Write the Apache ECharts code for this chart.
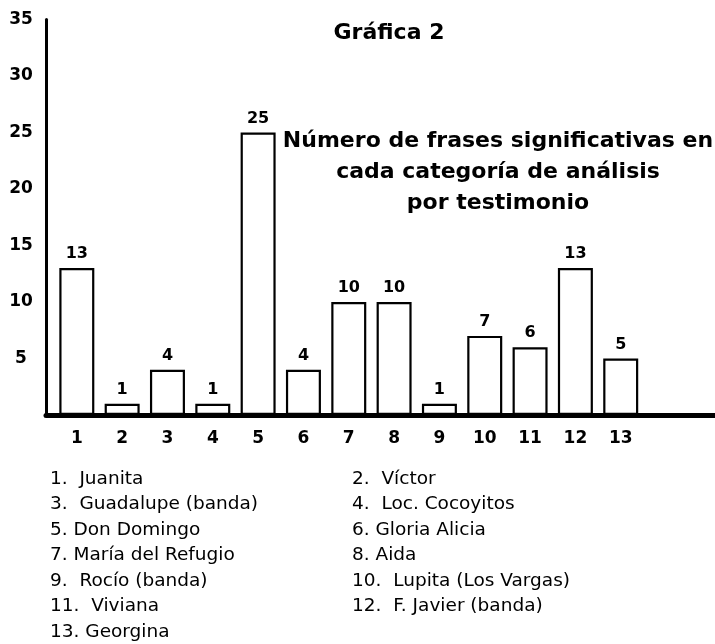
<!DOCTYPE html>
<html>
<head>
<meta charset="utf-8">
<title>Gráfica 2</title>
<script src="https://cdn.jsdelivr.net/npm/echarts@6/dist/echarts.min.js"></script>
<style>
  html, body { margin: 0; padding: 0; background: #fff; }
</style>
</head>
<body>
<div id="main" style="width:715px;height:644px"></div>
<script>
// testimonios (eje x) y número de frases
var categorias = [1, 2, 3, 4, 5, 6, 7, 8, 9, 10, 11, 12, 13];
var frases = [13, 1, 4, 1, 25, 4, 10, 10, 1, 7, 6, 13, 5];
var ticksY = [5, 10, 15, 20, 25, 30, 35];
var titulo = 'Gráfica 2';
var subtitulo = ['Número de frases significativas en', 'cada categoría de análisis', 'por testimonio'];
var nombres = [
  '1.  Juanita', '2.  Víctor',
  '3.  Guadalupe (banda)', '4.  Loc. Cocoyitos',
  '5. Don Domingo', '6. Gloria Alicia',
  '7. María del Refugio', '8. Aida',
  '9.  Rocío (banda)', '10.  Lupita (Los Vargas)',
  '11.  Viviana', '12.  F. Javier (banda)',
  '13. Georgina'
];

var fuente = '"DejaVu Sans", sans-serif';
var myChart = echarts.init(document.getElementById('main'));

// lista de nombres abajo, en dos columnas
var textos = [];
for (var i = 0; i < nombres.length; i++) {
  textos.push({
    type: 'text',
    x: i % 2 === 0 ? 50 : 352,
    y: 479 + Math.floor(i / 2) * 25.5,
    style: {
      text: nombres[i],
      font: 'normal 18.5px ' + fuente,
      fill: '#000',
      textVerticalAlign: 'middle'
    }
  });
}
textos.push({
  type: 'text', x: 389, y: 33,
  style: { text: titulo, font: 'bold 22px ' + fuente, fill: '#000', textAlign: 'center', textVerticalAlign: 'middle' }
});
for (var j = 0; j < subtitulo.length; j++) {
  textos.push({
    type: 'text', x: 498, y: 141 + j * 31,
    style: { text: subtitulo[j], font: 'bold 22px ' + fuente, fill: '#000', textAlign: 'center', textVerticalAlign: 'middle' }
  });
}

var option = {
  animation: false,
  backgroundColor: '#fff',
  grid: { left: 46, right: 0, top: 19.5, bottom: 229 },
  xAxis: {
    type: 'value',
    min: 0.32,
    max: 15.08,
    offset: 3,
    splitLine: { show: false },
    axisLine: { show: true, lineStyle: { color: '#000', width: 5 } },
    axisTick: { show: false },
    axisLabel: {
      customValues: categorias,
      margin: 12,
      color: '#000',
      fontFamily: fuente,
      fontWeight: 'bold',
      fontSize: 17
    }
  },
  yAxis: {
    type: 'value',
    min: 0,
    max: 35,
    interval: 5,
    splitLine: { show: false },
    axisLine: { show: true, lineStyle: { color: '#000', width: 3 } },
    axisTick: { show: false },
    axisLabel: {
      align: 'center',
      margin: 25,
      color: '#000',
      fontFamily: fuente,
      fontWeight: 'bold',
      fontSize: 17,
      formatter: function (v) {
        return ticksY.indexOf(v) >= 0 ? String(v) : '';
      }
    }
  },
  series: [
    {
      type: 'bar',
      barWidth: 35,
      data: categorias.map(function (c, k) { return [c, frases[k]]; }),
      itemStyle: { color: '#fff', borderColor: '#000', borderWidth: 2.2 },
      label: {
        show: true,
        position: 'top',
        distance: 6,
        color: '#000',
        fontFamily: fuente,
        fontWeight: 'bold',
        fontSize: 16,
        formatter: function (p) { return p.value[1]; }
      }
    }
  ],
  graphic: textos
};

option && myChart.setOption(option);
</script>
</body>
</html>
